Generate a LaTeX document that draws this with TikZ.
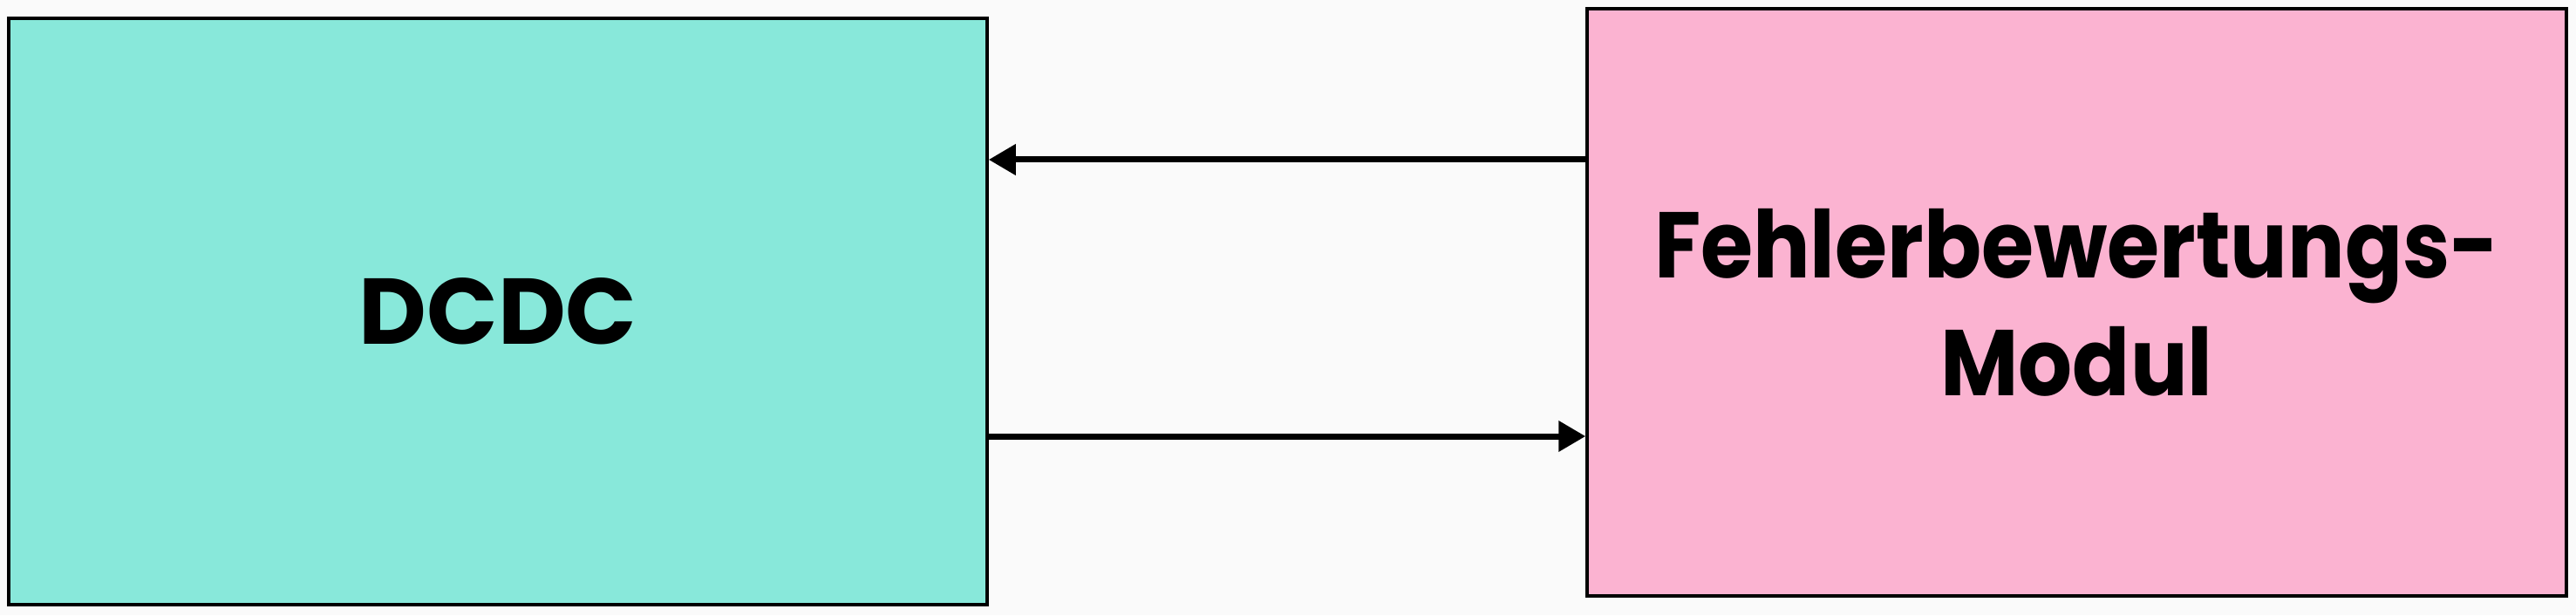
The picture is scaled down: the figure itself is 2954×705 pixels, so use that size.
\documentclass[tikz,border=0pt]{standalone}
\usepackage{fontspec}
\setmainfont{Poppins}[BoldFont={* Bold}]
\newfontfamily\narrowfont{Poppins Bold}[FakeStretch=0.91]
\usetikzlibrary{arrows.meta}
\definecolor{bgc}{HTML}{FAFAFA}
\definecolor{tealbox}{HTML}{88E8DA}
\definecolor{pinkbox}{HTML}{FBB3D1}
\tikzset{
  blockbox/.style={draw=black, line width=3.5pt, inner sep=0pt, align=center,
    font=\bfseries\fontsize{107}{135}\selectfont},
  conn/.style={line width=7pt, -{Triangle[length=31pt,width=34pt]}}
}
\begin{document}
\begin{tikzpicture}[x=1pt,y=1pt]
\fill[bgc] (0,0) rectangle (2954,705);
\useasboundingbox (0,0) rectangle (2954,705);
\node[blockbox, fill=tealbox, minimum width=1122pt, minimum height=672pt] (L) at (571,348) {DCDC};
\node[blockbox, fill=pinkbox, minimum width=1123pt, minimum height=673pt,
  font=\narrowfont\fontsize{107}{135}\selectfont] (R) at (2381.5,358.5) {Fehlerbewertungs-\\Modul};
\coordinate (t) at (0,522);
\coordinate (b) at (0,205);
\draw[conn] (R.west |- t) -- (L.east |- t);
\draw[conn] (L.east |- b) -- (R.west |- b);
\end{tikzpicture}
\end{document}
